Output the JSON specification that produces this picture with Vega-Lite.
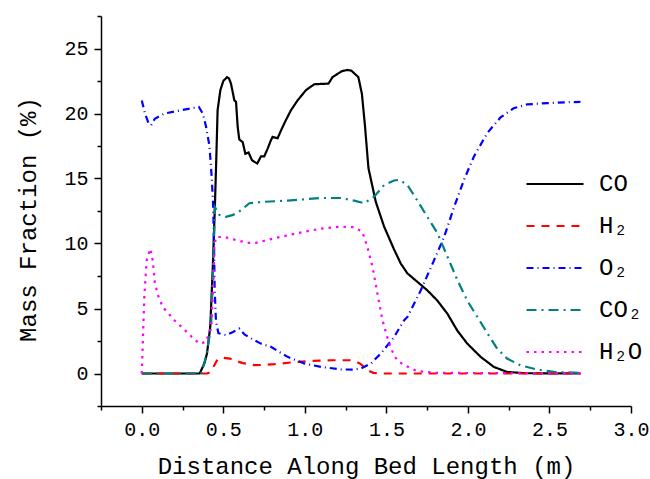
{
  "$schema": "https://vega.github.io/schema/vega-lite/v6.json",
  "width": 530,
  "height": 390,
  "autosize": "none",
  "padding": {"left": 101, "top": 16, "right": 19, "bottom": 73},
  "config": {
    "view": {"stroke": null},
    "axis": {"grid": false, "domainColor": "black", "domainWidth": 1.5, "tickColor": "black", "tickWidth": 1.5, "labelColor": "black", "titleColor": "black", "labelFont": "Liberation Mono", "titleFont": "Liberation Mono", "labelFontSize": 20, "titleFontSize": 24, "titleFontWeight": "normal"}
  },
  "data": {"values": [
    {"s":"CO","x":0,"y":0},{"s":"CO","x":0.355,"y":0},{"s":"CO","x":0.384,"y":0.77},{"s":"CO","x":0.4,"y":1.54},{"s":"CO","x":0.42,"y":3.6},{"s":"CO","x":0.435,"y":8},{"s":"CO","x":0.449,"y":13.1},{"s":"CO","x":0.458,"y":17},{"s":"CO","x":0.465,"y":20.25},{"s":"CO","x":0.482,"y":21.8},{"s":"CO","x":0.5,"y":22.5},{"s":"CO","x":0.523,"y":22.8},{"s":"CO","x":0.535,"y":22.7},{"s":"CO","x":0.547,"y":22.3},{"s":"CO","x":0.568,"y":21.0},{"s":"CO","x":0.578,"y":20.9},{"s":"CO","x":0.588,"y":19.0},{"s":"CO","x":0.598,"y":18.0},{"s":"CO","x":0.619,"y":17.8},{"s":"CO","x":0.635,"y":16.9},{"s":"CO","x":0.655,"y":17.0},{"s":"CO","x":0.676,"y":16.4},{"s":"CO","x":0.708,"y":16.15},{"s":"CO","x":0.731,"y":16.7},{"s":"CO","x":0.751,"y":16.7},{"s":"CO","x":0.772,"y":17.3},{"s":"CO","x":0.792,"y":17.95},{"s":"CO","x":0.802,"y":18.2},{"s":"CO","x":0.833,"y":18.1},{"s":"CO","x":0.854,"y":18.7},{"s":"CO","x":0.884,"y":19.5},{"s":"CO","x":0.915,"y":20.25},{"s":"CO","x":0.955,"y":21.0},{"s":"CO","x":1.007,"y":21.8},{"s":"CO","x":1.058,"y":22.25},{"s":"CO","x":1.145,"y":22.3},{"s":"CO","x":1.17,"y":22.8},{"s":"CO","x":1.226,"y":23.25},{"s":"CO","x":1.26,"y":23.35},{"s":"CO","x":1.285,"y":23.3},{"s":"CO","x":1.328,"y":22.8},{"s":"CO","x":1.35,"y":21.5},{"s":"CO","x":1.369,"y":19.0},{"s":"CO","x":1.39,"y":15.8},{"s":"CO","x":1.435,"y":13.2},{"s":"CO","x":1.486,"y":11.3},{"s":"CO","x":1.545,"y":9.6},{"s":"CO","x":1.588,"y":8.46},{"s":"CO","x":1.629,"y":7.7},{"s":"CO","x":1.69,"y":7.05},{"s":"CO","x":1.751,"y":6.4},{"s":"CO","x":1.813,"y":5.6},{"s":"CO","x":1.874,"y":4.6},{"s":"CO","x":1.935,"y":3.3},{"s":"CO","x":1.996,"y":2.3},{"s":"CO","x":2.078,"y":1.28},{"s":"CO","x":2.16,"y":0.5},{"s":"CO","x":2.24,"y":0.12},{"s":"CO","x":2.35,"y":0.02},{"s":"CO","x":2.69,"y":0},
    {"s":"H₂","x":0,"y":0},{"s":"H₂","x":0.4,"y":0},{"s":"H₂","x":0.42,"y":0.1},{"s":"H₂","x":0.445,"y":0.64},{"s":"H₂","x":0.465,"y":1.1},{"s":"H₂","x":0.5,"y":1.2},{"s":"H₂","x":0.54,"y":1.15},{"s":"H₂","x":0.568,"y":1.0},{"s":"H₂","x":0.62,"y":0.8},{"s":"H₂","x":0.69,"y":0.64},{"s":"H₂","x":0.75,"y":0.66},{"s":"H₂","x":0.813,"y":0.72},{"s":"H₂","x":0.955,"y":0.9},{"s":"H₂","x":1.05,"y":0.97},{"s":"H₂","x":1.16,"y":1.02},{"s":"H₂","x":1.28,"y":1.02},{"s":"H₂","x":1.31,"y":0.95},{"s":"H₂","x":1.343,"y":0.72},{"s":"H₂","x":1.384,"y":0.25},{"s":"H₂","x":1.42,"y":0.05},{"s":"H₂","x":1.466,"y":0},{"s":"H₂","x":2.69,"y":0},
    {"s":"O₂","x":0,"y":21.0},{"s":"O₂","x":0.02,"y":20.0},{"s":"O₂","x":0.04,"y":19.3},{"s":"O₂","x":0.057,"y":19.1},{"s":"O₂","x":0.08,"y":19.6},{"s":"O₂","x":0.139,"y":20.0},{"s":"O₂","x":0.24,"y":20.25},{"s":"O₂","x":0.35,"y":20.5},{"s":"O₂","x":0.374,"y":20.0},{"s":"O₂","x":0.394,"y":19.0},{"s":"O₂","x":0.415,"y":17.5},{"s":"O₂","x":0.429,"y":15.1},{"s":"O₂","x":0.437,"y":13.1},{"s":"O₂","x":0.443,"y":10.0},{"s":"O₂","x":0.447,"y":6.5},{"s":"O₂","x":0.455,"y":4.0},{"s":"O₂","x":0.47,"y":3.1},{"s":"O₂","x":0.517,"y":2.95},{"s":"O₂","x":0.56,"y":3.2},{"s":"O₂","x":0.598,"y":3.46},{"s":"O₂","x":0.63,"y":3.0},{"s":"O₂","x":0.67,"y":2.7},{"s":"O₂","x":0.73,"y":2.3},{"s":"O₂","x":0.792,"y":2.05},{"s":"O₂","x":0.894,"y":1.28},{"s":"O₂","x":0.996,"y":0.77},{"s":"O₂","x":1.099,"y":0.51},{"s":"O₂","x":1.221,"y":0.31},{"s":"O₂","x":1.3,"y":0.3},{"s":"O₂","x":1.343,"y":0.38},{"s":"O₂","x":1.405,"y":0.77},{"s":"O₂","x":1.466,"y":1.54},{"s":"O₂","x":1.547,"y":2.8},{"s":"O₂","x":1.609,"y":4.1},{"s":"O₂","x":1.629,"y":4.35},{"s":"O₂","x":1.711,"y":6.4},{"s":"O₂","x":1.792,"y":8.7},{"s":"O₂","x":1.854,"y":10.5},{"s":"O₂","x":1.915,"y":12.8},{"s":"O₂","x":1.976,"y":14.9},{"s":"O₂","x":2.037,"y":16.7},{"s":"O₂","x":2.119,"y":18.5},{"s":"O₂","x":2.2,"y":19.7},{"s":"O₂","x":2.28,"y":20.4},{"s":"O₂","x":2.364,"y":20.7},{"s":"O₂","x":2.486,"y":20.8},{"s":"O₂","x":2.69,"y":20.9},
    {"s":"CO₂","x":0,"y":0},{"s":"CO₂","x":0.364,"y":0},{"s":"CO₂","x":0.394,"y":1.28},{"s":"CO₂","x":0.425,"y":3.6},{"s":"CO₂","x":0.439,"y":8.7},{"s":"CO₂","x":0.449,"y":12.8},{"s":"CO₂","x":0.476,"y":12.2},{"s":"CO₂","x":0.517,"y":12.05},{"s":"CO₂","x":0.56,"y":12.2},{"s":"CO₂","x":0.609,"y":12.56},{"s":"CO₂","x":0.66,"y":13.1},{"s":"CO₂","x":0.741,"y":13.2},{"s":"CO₂","x":0.894,"y":13.3},{"s":"CO₂","x":1.0,"y":13.4},{"s":"CO₂","x":1.099,"y":13.5},{"s":"CO₂","x":1.221,"y":13.5},{"s":"CO₂","x":1.302,"y":13.3},{"s":"CO₂","x":1.364,"y":13.1},{"s":"CO₂","x":1.425,"y":13.6},{"s":"CO₂","x":1.486,"y":14.5},{"s":"CO₂","x":1.547,"y":14.85},{"s":"CO₂","x":1.58,"y":14.9},{"s":"CO₂","x":1.629,"y":14.5},{"s":"CO₂","x":1.69,"y":13.3},{"s":"CO₂","x":1.751,"y":12.05},{"s":"CO₂","x":1.813,"y":10.8},{"s":"CO₂","x":1.874,"y":9.0},{"s":"CO₂","x":1.935,"y":7.2},{"s":"CO₂","x":1.996,"y":5.6},{"s":"CO₂","x":2.058,"y":4.35},{"s":"CO₂","x":2.119,"y":3.1},{"s":"CO₂","x":2.18,"y":1.9},{"s":"CO₂","x":2.24,"y":1.15},{"s":"CO₂","x":2.32,"y":0.64},{"s":"CO₂","x":2.425,"y":0.3},{"s":"CO₂","x":2.527,"y":0.12},{"s":"CO₂","x":2.69,"y":0.05},
    {"s":"H₂O","x":0,"y":0},{"s":"H₂O","x":0.008,"y":3},{"s":"H₂O","x":0.016,"y":6.0},{"s":"H₂O","x":0.03,"y":8.7},{"s":"H₂O","x":0.052,"y":9.6},{"s":"H₂O","x":0.067,"y":8.7},{"s":"H₂O","x":0.08,"y":7.0},{"s":"H₂O","x":0.1,"y":6.0},{"s":"H₂O","x":0.129,"y":5.1},{"s":"H₂O","x":0.2,"y":4.1},{"s":"H₂O","x":0.251,"y":3.5},{"s":"H₂O","x":0.3,"y":2.9},{"s":"H₂O","x":0.353,"y":2.3},{"s":"H₂O","x":0.394,"y":2.43},{"s":"H₂O","x":0.425,"y":3.6},{"s":"H₂O","x":0.439,"y":6.66},{"s":"H₂O","x":0.445,"y":9.7},{"s":"H₂O","x":0.455,"y":10.5},{"s":"H₂O","x":0.506,"y":10.5},{"s":"H₂O","x":0.568,"y":10.3},{"s":"H₂O","x":0.649,"y":10.05},{"s":"H₂O","x":0.7,"y":10.05},{"s":"H₂O","x":0.813,"y":10.4},{"s":"H₂O","x":0.955,"y":10.8},{"s":"H₂O","x":1.099,"y":11.15},{"s":"H₂O","x":1.221,"y":11.3},{"s":"H₂O","x":1.302,"y":11.25},{"s":"H₂O","x":1.353,"y":10.9},{"s":"H₂O","x":1.384,"y":9.7},{"s":"H₂O","x":1.415,"y":8.2},{"s":"H₂O","x":1.445,"y":6.15},{"s":"H₂O","x":1.476,"y":4.1},{"s":"H₂O","x":1.517,"y":2.3},{"s":"H₂O","x":1.547,"y":1.4},{"s":"H₂O","x":1.568,"y":1.0},{"s":"H₂O","x":1.609,"y":0.64},{"s":"H₂O","x":1.69,"y":0.18},{"s":"H₂O","x":1.81,"y":0.05},{"s":"H₂O","x":2.69,"y":0}
  ]},
  "mark": {"type": "line", "strokeWidth": 2.2, "clip": false},
  "encoding": {
    "x": {"field": "x", "type": "quantitative",
      "scale": {"domain": [-0.25, 3.0], "nice": false, "zero": false},
      "axis": {"title": "Distance Along Bed Length (m)",
        "values": [-0.25, 0, 0.25, 0.5, 0.75, 1, 1.25, 1.5, 1.75, 2, 2.25, 2.5, 2.75, 3],
        "labelExpr": "datum.value % 0.5 == 0 ? format(datum.value, '.1f') : ''",
        "tickSize": {"condition": {"test": "datum.value % 0.5 != 0", "value": 4}, "value": 7},
        "labelPadding": 6, "labelOverlap": false, "labelFlush": false,
        "titleY": 67, "titleBaseline": "alphabetic"}},
    "y": {"field": "y", "type": "quantitative",
      "scale": {"domain": [-2.5, 27.5], "nice": false, "zero": false},
      "axis": {"title": "Mass Fraction (%)",
        "values": [-2.5, 0, 2.5, 5, 7.5, 10, 12.5, 15, 17.5, 20, 22.5, 25, 27.5],
        "labelExpr": "datum.value % 5 == 0 ? format(datum.value, 'd') : ''",
        "tickSize": {"condition": {"test": "datum.value % 5 != 0", "value": 4}, "value": 7},
        "labelPadding": 6, "labelOverlap": false, "labelFlush": false,
        "titleX": -73, "titleY": 203, "titleAngle": -90, "titleBaseline": "middle", "titleAlign": "center"}},
    "color": {"field": "s", "type": "nominal",
      "scale": {"domain": ["CO", "H₂", "O₂", "CO₂", "H₂O"], "range": ["#000000", "#ff0000", "#0000ff", "#008080", "#ff00ff"]},
      "legend": {"title": null, "orient": "none", "legendX": 424, "legendY": 138, "padding": 0,
        "symbolType": "stroke", "symbolSize": 3249, "symbolStrokeWidth": 2.2,
        "labelFont": "Liberation Mono", "labelFontSize": 24, "labelColor": "black", "labelOffset": 14, "rowPadding": -6}},
    "strokeDash": {"field": "s", "type": "nominal",
      "scale": {"domain": ["CO", "H₂", "O₂", "CO₂", "H₂O"], "range": [[1, 0], [8, 7], [7, 4, 1, 4], [10, 5, 2, 5], [2.5, 5]]},
      "legend": {"title": null}}
  }
}
